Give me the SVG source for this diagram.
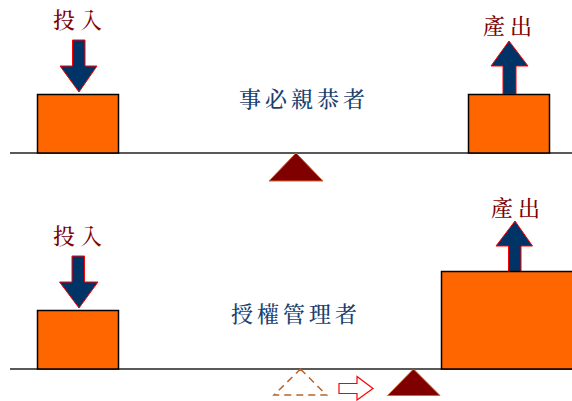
<svg xmlns="http://www.w3.org/2000/svg" width="572" height="401" viewBox="0 0 572 401">
<style>
.box{fill:#FF6600;stroke:#000;stroke-width:1.5}
.arr{fill:#003366;stroke:#FF0000;stroke-width:1}
.lbl{font-family:"Noto Serif CJK TC","Noto Sans CJK TC",serif;fill:#800000;font-size:22px;font-weight:500;text-anchor:middle;letter-spacing:5px}
.ttl{font-family:"Noto Serif CJK TC","Noto Sans CJK TC",serif;fill:#1A3E6E;font-size:22px;font-weight:500;text-anchor:middle;letter-spacing:4px}
.beam{stroke:#222;stroke-width:1.5;fill:none}
.ful{fill:#800000;stroke:#CC6633;stroke-width:1}
</style>
<rect width="572" height="401" fill="#fff"/>
<g id="connectors">
<line class="beam" x1="10" y1="153" x2="572" y2="153"/>
<line class="beam" x1="10" y1="369" x2="572" y2="369"/>
</g>
<g id="top-input">
<text class="lbl" x="80" y="28">投入</text>
<polygon class="arr" points="72.5,40 85,40 85,66 97,66 79,92 60,66 72.5,66"/>
<rect class="box" x="37.5" y="94.5" width="81" height="58.5"/>
</g>
<g id="top-output">
<text class="lbl" x="510" y="34">產出</text>
<polygon class="arr" points="503,94 516,94 516,66 528,66 509,41 491,66 503,66"/>
<rect class="box" x="468.5" y="94.5" width="81" height="58.5"/>
</g>
<g id="top-title"><text class="ttl" x="304" y="107">事必親恭者</text></g>
<g id="top-fulcrum"><polygon class="ful" points="296,153 323,181 269,181"/></g>
<g id="bottom-input">
<text class="lbl" x="80" y="244">投入</text>
<polygon class="arr" points="72,256 84.5,256 84.5,282 98,282 79,308 59.5,282 72,282"/>
<rect class="box" x="37.5" y="310.5" width="81" height="58.5"/>
</g>
<g id="bottom-output">
<text class="lbl" x="518" y="216">產出</text>
<polygon class="arr" points="508.5,272 521,272 521,246 532.5,246 515,221 496,246 508.5,246"/>
<rect class="box" x="441.5" y="271.5" width="140" height="97.5"/>
</g>
<g id="bottom-title"><text class="ttl" x="296" y="322">授權管理者</text></g>
<g id="old-fulcrum"><polygon points="300.5,369 326.5,395 274,395" fill="none" stroke="#B5652D" stroke-width="1.5" stroke-dasharray="7,5"/></g>
<g id="shift-arrow"><polygon points="339,383.5 357,383.5 357,376.5 373,388.5 357,400 357,393.5 339,393.5" fill="#fff" stroke="#FF0000" stroke-width="1.2"/></g>
<g id="new-fulcrum"><polygon class="ful" points="413.5,369 440,395.5 387.5,395.5"/></g>
</svg>
